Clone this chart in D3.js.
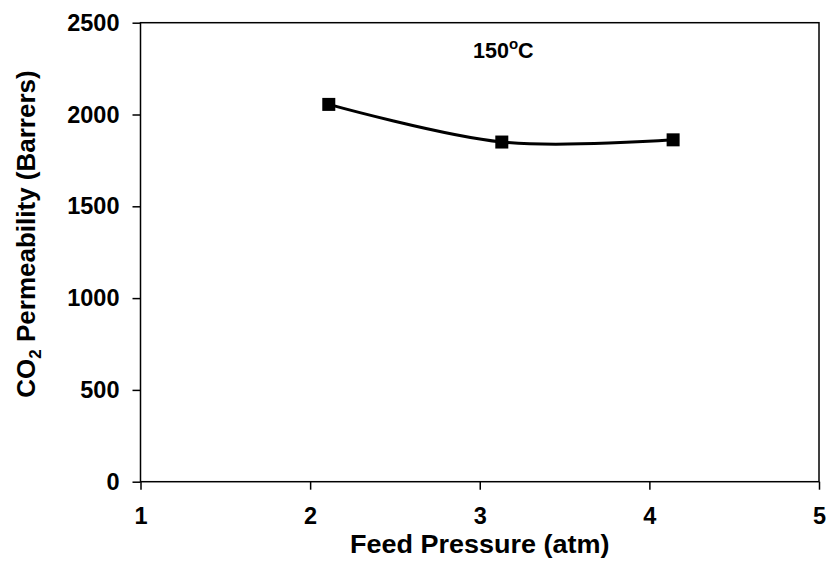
<!DOCTYPE html>
<html><head><meta charset="utf-8">
<script src="https://cdn.jsdelivr.net/npm/d3@7"></script>
<style>
body{margin:0;background:#fff;}
svg{display:block;}
text{font-family:Arial,"Liberation Sans",sans-serif;font-weight:bold;fill:#000;}
</style></head>
<body><svg id="c" width="826" height="567"></svg>
<script>
const pressure = [2.11, 3.13, 4.14];
const permeability = [2055, 1850, 1862];
const xTicks = [1, 2, 3, 4, 5];
const yTicks = [0, 500, 1000, 1500, 2000, 2500];

const svg = d3.select("#c");
const L = 140.5, R = 819, T = 22.7, B = 481.7;
const x = d3.scaleLinear().domain([1, 5]).range([L, R]);
const y = d3.scaleLinear().domain([0, 2500]).range([B, T]);

svg.append("rect").attr("x", L).attr("y", T).attr("width", R - L).attr("height", B - T)
  .attr("fill", "none").attr("stroke", "#000").attr("stroke-width", 1.5);

const xAxis = svg.append("g").attr("transform", `translate(0,${B})`)
  .call(d3.axisBottom(x).tickValues(xTicks).tickSize(8).tickPadding(18).tickFormat(d3.format("d")));
const yAxis = svg.append("g").attr("transform", `translate(${L},0)`)
  .call(d3.axisLeft(y).tickValues(yTicks).tickSize(8).tickPadding(13).tickFormat(d3.format("d")));
[xAxis, yAxis].forEach(g => {
  g.select(".domain").remove();
  g.selectAll(".tick line").attr("stroke", "#000").attr("stroke-width", 1.5);
  g.selectAll(".tick text").style("font-family", "Arial, 'Liberation Sans', sans-serif")
    .style("font-weight", "bold").style("font-size", "23.5px").attr("fill", "#000");
});

const data = pressure.map((p, i) => ({ p, v: permeability[i] }));
const line = d3.line().x(d => x(d.p)).y(d => y(d.v)).curve(d3.curveCatmullRom.alpha(0.5));
svg.append("path").datum(data).attr("d", line).attr("fill", "none")
  .attr("stroke", "#000").attr("stroke-width", 3);

const s = 13;
svg.selectAll("rect.m").data(data).enter().append("rect").attr("class", "m")
  .attr("x", d => x(d.p) - s / 2).attr("y", d => y(d.v) - s / 2)
  .attr("width", s).attr("height", s).attr("fill", "#000");

const ann = svg.append("text").attr("x", 473).attr("y", 58).style("font-size", "21.5px");
ann.append("tspan").text("150");
ann.append("tspan").text("o").style("font-size", "15px").attr("dy", -9);
ann.append("tspan").text("C").attr("dy", 9);

svg.append("text").attr("transform", `translate(${(L + R) / 2},553) scale(1.08,1)`)
  .attr("text-anchor", "middle").style("font-size", "25px").text("Feed Pressure (atm)");

const yt = svg.append("text").attr("transform", "translate(35,234) rotate(-90)")
  .attr("text-anchor", "middle").style("font-size", "26px");
yt.append("tspan").text("CO");
yt.append("tspan").text("2").style("font-size", "17px").attr("dy", 6);
yt.append("tspan").text(" Permeability (Barrers)").attr("dy", -6);
</script></body></html>
